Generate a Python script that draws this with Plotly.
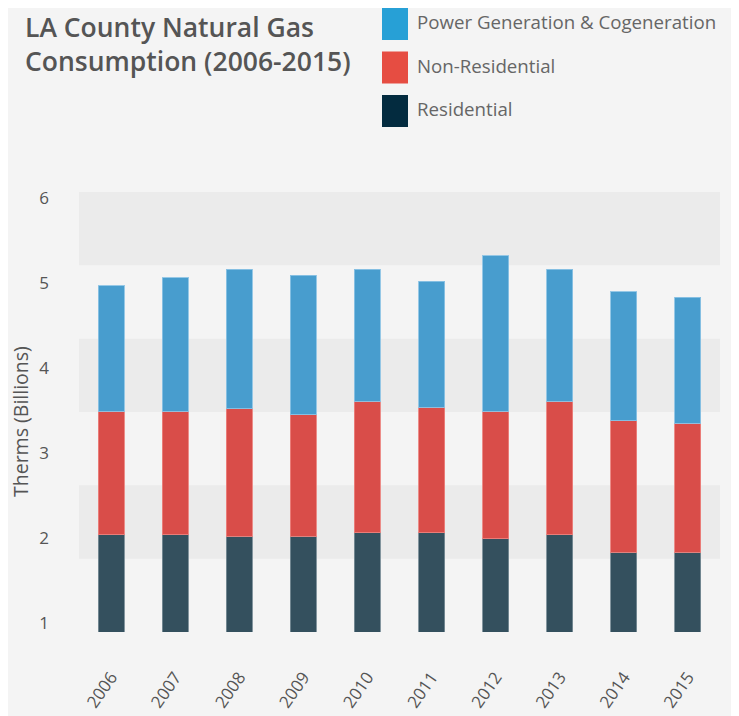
import plotly.graph_objects as go

years = ["2006", "2007", "2008", "2009", "2010", "2011", "2012", "2013", "2014", "2015"]
residential = [2.04, 2.04, 2.02, 2.02, 2.06, 2.06, 1.99, 2.04, 1.83, 1.83]
non_residential = [1.45, 1.45, 1.50, 1.43, 1.55, 1.48, 1.50, 1.57, 1.55, 1.52]
power_cogen = [1.48, 1.57, 1.64, 1.64, 1.55, 1.48, 1.83, 1.55, 1.52, 1.48]
y_ticks = [1, 2, 3, 4, 5, 6]

series = [
    ("Residential", residential, "#34505E", "rgba(120,140,150,0.9)", "#032B3F"),
    ("Non-Residential", non_residential, "#D94D49", "rgba(235,130,125,0.9)", "#E64D42"),
    ("Power Generation & Cogeneration", power_cogen, "#489DCE", "rgba(140,195,228,0.9)", "#27A0D6"),
]

FONT = "Open Sans"
BG = "#F4F4F4"

fig = go.Figure()
for name, vals, col, edge, _ in series:
    fig.add_trace(go.Bar(
        x=years, y=vals, name=name,
        marker=dict(color=col, line=dict(color=edge, width=1)),
        showlegend=False,
    ))

# page is offset by the 8px body margin
OFF = 8
L, R, T, B = 71, 19, 184, 92
W, H = 731, 716
pw, ph = W - L - R, H - T - B

def px_x(x):
    return (x - OFF - L) / pw

def px_y(y):
    return (H - B - (y - OFF)) / ph

shapes = []
# alternating background bands
for i in range(6):
    if i % 2 == 1:
        shapes.append(dict(type="rect", xref="x domain", yref="y domain",
                           x0=0, x1=1, y0=i / 6, y1=(i + 1) / 6,
                           fillcolor="#EBEBEB", line=dict(width=0), layer="below"))

annotations = []
# custom legend (top to bottom: power, non-res, residential)
legend_order = list(reversed(series))
for i, (name, _, _, _, lcol) in enumerate(legend_order):
    top = 8 + i * 43.5
    shapes.append(dict(type="rect", xref="paper", yref="paper",
                       x0=px_x(382), x1=px_x(408), y0=px_y(top + 32), y1=px_y(top),
                       fillcolor=lcol, line=dict(width=0)))
    annotations.append(dict(text=name, xref="paper", yref="paper",
                            x=px_x(415), y=px_y(top + 13.5), xanchor="left", yanchor="middle",
                            showarrow=False, font=dict(family=FONT, size=18.7, color="#666666")))

# title
annotations.append(dict(text="LA County Natural Gas<br>Consumption (2006-2015)",
                        xref="paper", yref="paper", x=px_x(24), y=px_y(8),
                        xanchor="left", yanchor="top", align="left", showarrow=False,
                        borderpad=0,
                        font=dict(family=FONT, size=26.5, weight=600, color="#555555")))

# y-axis title
annotations.append(dict(text="Therms (Billions)", xref="paper", yref="paper",
                        x=px_x(20), y=px_y(422), textangle=-90,
                        xanchor="center", yanchor="middle", showarrow=False,
                        font=dict(family=FONT, size=19.5, color="#555555")))

fig.update_layout(
    width=W, height=H,
    margin=dict(l=L, r=R, t=T, b=B, autoexpand=False),
    paper_bgcolor=BG, plot_bgcolor=BG,
    barmode="stack", bargap=0.594,
    shapes=shapes, annotations=annotations,
    xaxis=dict(showgrid=False, zeroline=False, showline=False, automargin=False,
               tickangle=-55, ticklabelstandoff=31,
               tickfont=dict(family=FONT, size=17, color="#555555")),
    yaxis=dict(range=[0.894, 6.071], tickvals=y_ticks, showgrid=False, automargin=False,
               zeroline=False, showline=False, ticklabelstandoff=29,
               tickfont=dict(family=FONT, size=17, color="#555555")),
)

fig.write_html("out.html")
